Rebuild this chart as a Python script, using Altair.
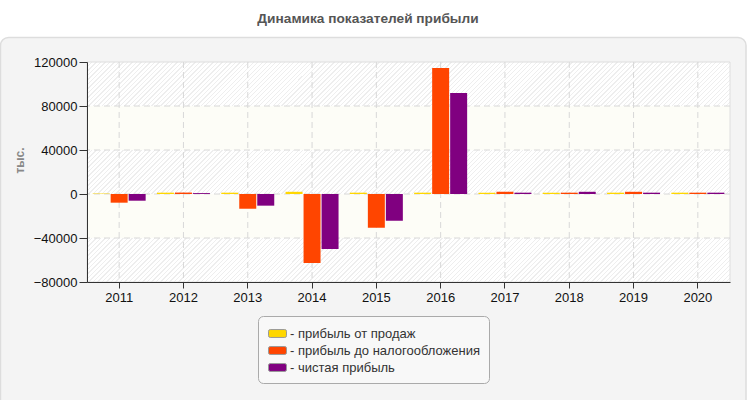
import altair as alt
import pandas as pd

# ---------------- data ----------------
years = ["2011", "2012", "2013", "2014", "2015", "2016", "2017", "2018", "2019", "2020"]
series = ["прибыль от продаж", "прибыль до налогообложения", "чистая прибыль"]
sales = [400, 1200, 1200, 2000, 1200, 1200, 1200, 1200, 1200, 1200]
pretax = [-7900, 1300, -13400, -62700, -30600, 114500, 2000, 1200, 2000, 1200]
net = [-6100, 800, -10600, -50000, -24300, 91800, 1200, 2000, 1200, 1200]
colors = ["#FFD700", "#FF4500", "#800080"]
y_ticks = [-80000, -40000, 0, 40000, 80000, 120000]
grid_ticks = [-40000, 0, 40000, 80000]

# ---------------- layout ----------------
PLOT_W, PLOT_H = 643, 220
FONT = "Liberation Sans"

rows = []
for name, vals in zip(series, [sales, pretax, net]):
    for yr, v in zip(years, vals):
        rows.append({"year": yr, "series": name, "value": v})
df = pd.DataFrame(rows)

bands = pd.DataFrame({"lo": y_ticks[:-1], "hi": y_ticks[1:]})
bands["kind"] = ["hatch" if i % 2 == 0 else "pale" for i in range(len(bands))]
hatch_df = bands[bands.kind == "hatch"]
pale_df = bands[bands.kind == "pale"]
grid_df = pd.DataFrame({"t": grid_ticks})
years_df = pd.DataFrame({"year": years})
one = pd.DataFrame({"a": [0]})

yscale = alt.Scale(domain=[y_ticks[0], y_ticks[-1]], nice=False, zero=False)
xscale = alt.Scale(domain=years, paddingInner=0, paddingOuter=0)

yaxis = alt.Axis(values=y_ticks, format="d", title="тыс.", grid=False, zindex=1,
                 labelFontSize=13, labelColor="#111", labelFont=FONT,
                 tickSize=8, tickColor="#333", domainColor="#333", labelPadding=2,
                 titleFontSize=12, titleFontWeight="bold", titleColor="#888",
                 titleFont=FONT, titleAngle=270, titleX=-68, titleY=98,
                 titleAlign="center", titleBaseline="middle")
xaxis = alt.Axis(title=None, grid=False, zindex=1, labelAngle=0,
                 labelFontSize=13, labelColor="#111", labelFont=FONT,
                 tickSize=6, tickColor="#333", domainColor="#333", labelPadding=3)

# hatch gradient (diagonal stripes)
bh = PLOT_H * 40000 / (y_ticks[-1] - y_ticks[0])
r = bh / PLOT_W
s = (1 + r) / (1 + r * r)
N = int(round((PLOT_W + bh) / 4.5))
stops = []
for i in range(N):
    a = i / N
    b = (i + 0.3) / N
    c = (i + 1) / N
    stops += [alt.GradientStop(offset=a, color="#eeeeee"),
              alt.GradientStop(offset=b, color="#eeeeee"),
              alt.GradientStop(offset=b, color="#ffffff"),
              alt.GradientStop(offset=c, color="#ffffff")]
hatch_fill = alt.LinearGradient(gradient="linear", stops=stops, x1=0, y1=0, x2=s, y2=s * r)

panel = alt.Chart(one).mark_rect(fill="#f4f4f4", stroke="#dddddd", strokeWidth=1.5,
                                 cornerRadius=8).encode(
    x=alt.value(-86.5), x2=alt.value(PLOT_W + 16), y=alt.value(-24.5), y2=alt.value(PLOT_H + 140))

hatch = alt.Chart(hatch_df).mark_rect(fill=hatch_fill).encode(
    x=alt.value(0), x2=alt.value(PLOT_W),
    y=alt.Y("lo:Q", scale=yscale, axis=yaxis), y2="hi:Q")

pale = alt.Chart(pale_df).mark_rect(fill="#fdfdf7").encode(
    x=alt.value(0), x2=alt.value(PLOT_W),
    y=alt.Y("lo:Q", scale=yscale, axis=yaxis), y2="hi:Q")

frame = alt.Chart(one).mark_rect(fillOpacity=0, stroke="#dedede", strokeWidth=1).encode(
    x=alt.value(0), x2=alt.value(PLOT_W), y=alt.value(0), y2=alt.value(PLOT_H))

hrules = alt.Chart(grid_df).mark_rule(color="#d8d8d8", strokeDash=[6, 4], strokeWidth=1).encode(
    y=alt.Y("t:Q", scale=yscale, axis=yaxis))

vrules = alt.Chart(years_df).mark_rule(color="#d8d8d8", strokeDash=[6, 4], strokeWidth=1).encode(
    x=alt.X("year:N", scale=xscale, axis=xaxis, sort=years),
    y=alt.value(0), y2=alt.value(PLOT_H))

rect_path = ("M-0.8,-0.44H0.8Q1,-0.44,1,-0.24V0.24Q1,0.44,0.8,0.44H-0.8"
             "Q-1,0.44,-1,0.24V-0.24Q-1,-0.44,-0.8,-0.44Z")

bars = alt.Chart(df).mark_bar().encode(
    x=alt.X("year:N", scale=xscale, axis=xaxis, sort=years),
    xOffset=alt.XOffset("series:N", sort=series,
                        scale=alt.Scale(domain=series, paddingInner=0.056, paddingOuter=0.314)),
    y=alt.Y("value:Q", scale=yscale, axis=yaxis),
    color=alt.Color("series:N", sort=series,
                    scale=alt.Scale(domain=series, range=colors),
                    legend=alt.Legend(orient="none", legendX=171, legendY=254, title=None,
                                      direction="vertical", fillColor="#f8f8f8",
                                      strokeColor="#aaaaaa", cornerRadius=5, padding=8,
                                      labelFontSize=13, labelColor="#333", labelFont=FONT,
                                      labelExpr="'- ' + datum.label", labelLimit=400,
                                      symbolType=rect_path, symbolSize=324,
                                      symbolStrokeColor="#999999", symbolStrokeWidth=1,
                                      symbolOpacity=1, labelOffset=3, rowPadding=0,
                                      symbolOffset=2)),
)

chart = alt.layer(panel, hatch, pale, frame, hrules, vrules, bars).properties(
    width=PLOT_W, height=PLOT_H,
    title=alt.TitleParams("Динамика показателей прибыли", fontSize=13.7, fontWeight="bold",
                          color="#555555", font=FONT, anchor="middle", dx=-40.5, offset=11),
    autosize=alt.AutoSizeParams(type="none"),
    padding={"left": 87, "top": 62, "right": 20, "bottom": 118},
    background="#ffffff",
).configure_view(stroke=None).configure(font=FONT)

chart.save("out.html", embed_options={"renderer": "svg", "actions": False})
